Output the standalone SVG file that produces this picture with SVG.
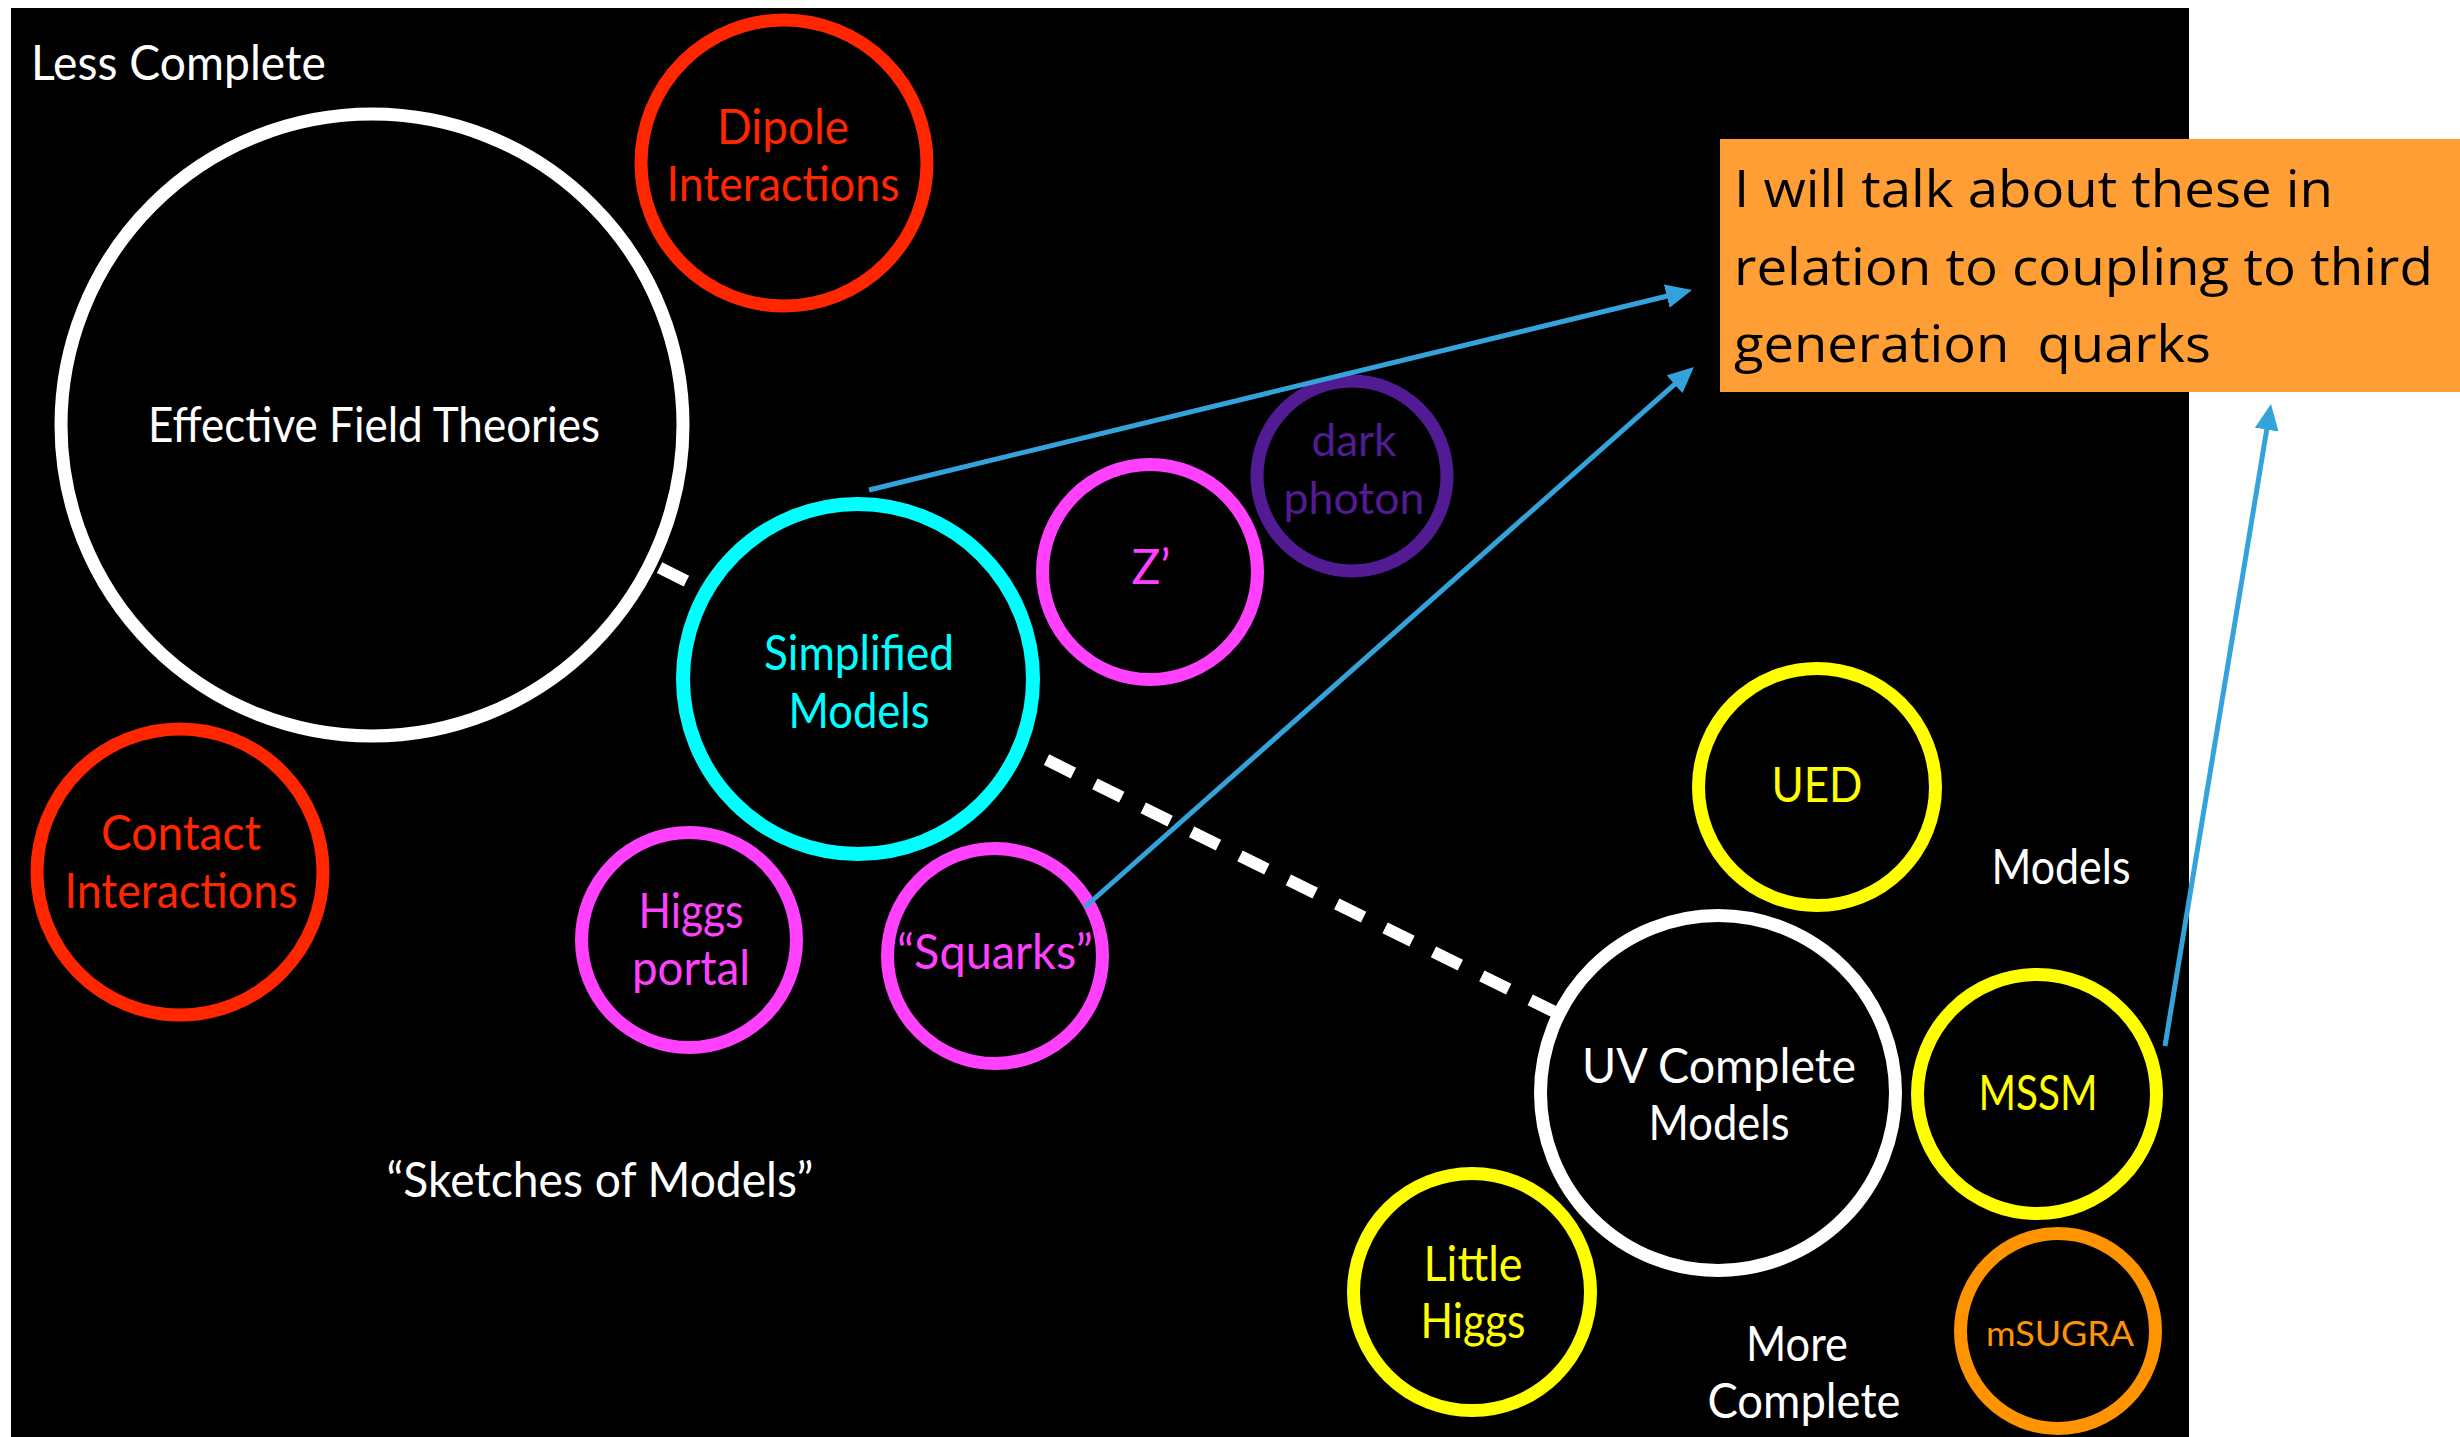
<svg xmlns="http://www.w3.org/2000/svg" width="2460" height="1437" viewBox="0 0 2460 1437">
<style>
.ring{fill:#000;stroke-width:13}
.t{font-family:Lato,"Open Sans","Liberation Sans",sans-serif;font-size:48px;text-anchor:middle}
.w{fill:#fff}.wr{stroke:#fff}
.r{fill:#FF2600}.rr{stroke:#FF2600}
.c{fill:#00FFFF}.cr{stroke:#00FFFF}
.m{fill:#FF40FF}.mr{stroke:#FF40FF}
.p{fill:#531B93}.pr{stroke:#531B93}
.y{fill:#FFFF00}.yr{stroke:#FFFF00}
.o{fill:#FF9300}.or{stroke:#FF9300}
.conn{stroke:#35A3DB;stroke-width:5;fill:none;marker-end:url(#ah)}
.dash{stroke:#fff;stroke-width:12;fill:none;stroke-dasharray:30 24;stroke-dashoffset:3}
.note{font-family:"Open Sans","Liberation Sans",sans-serif;font-size:52px;fill:#000}
</style>
<defs>
<marker id="ah" markerUnits="userSpaceOnUse" viewBox="0 0 26 24" refX="6" refY="12" markerWidth="26" markerHeight="24" orient="auto">
<path d="M0,0 L26,12 L0,24 Z" fill="#35A3DB"/>
</marker>
</defs>
<rect x="0" y="0" width="2460" height="1437" fill="#fff"/>
<rect x="11" y="8" width="2178" height="1429" fill="#000"/>
<g id="connectors-dashed">
<path class="dash" d="M372,425 L1718,1093"/>
</g>
<g id="eft"><circle class="ring wr" cx="372" cy="425" r="311"/><text class="t w" x="374" y="442" textLength="452" lengthAdjust="spacingAndGlyphs">Effective Field Theories</text></g>
<g id="dipole"><circle class="ring rr" cx="784" cy="163" r="143"/><text class="t r" x="783" y="144" textLength="132" lengthAdjust="spacingAndGlyphs">Dipole</text><text class="t r" x="783" y="201" textLength="233" lengthAdjust="spacingAndGlyphs">Interactions</text></g>
<g id="simplified"><circle class="ring cr" cx="858" cy="679" r="175" style="stroke-width:14"/><text class="t c" x="859" y="670" textLength="190" lengthAdjust="spacingAndGlyphs">Simplified</text><text class="t c" x="859" y="728" textLength="141" lengthAdjust="spacingAndGlyphs">Models</text></g>
<g id="contact"><circle class="ring rr" cx="180" cy="872" r="143"/><text class="t r" x="181" y="850" textLength="160" lengthAdjust="spacingAndGlyphs">Contact</text><text class="t r" x="181" y="908" textLength="233" lengthAdjust="spacingAndGlyphs">Interactions</text></g>
<g id="higgs-portal"><circle class="ring mr" cx="689" cy="940" r="107.5"/><text class="t m" x="691" y="928" textLength="105" lengthAdjust="spacingAndGlyphs">Higgs</text><text class="t m" x="691" y="985" textLength="118" lengthAdjust="spacingAndGlyphs">portal</text></g>
<g id="squarks"><circle class="ring mr" cx="995" cy="956" r="107.5"/><text class="t m" x="995" y="969" textLength="196" lengthAdjust="spacingAndGlyphs">“Squarks”</text></g>
<g id="zprime"><circle class="ring mr" cx="1150" cy="572" r="107.5"/><text class="t m" x="1151" y="584">Z’</text></g>
<g id="dark-photon"><circle class="ring pr" cx="1352" cy="476" r="95"/><text class="t p" x="1354" y="456" style="font-size:44px" textLength="85" lengthAdjust="spacingAndGlyphs">dark</text><text class="t p" x="1354" y="514" style="font-size:44px" textLength="141" lengthAdjust="spacingAndGlyphs">photon</text></g>
<g id="ued"><circle class="ring yr" cx="1817" cy="787" r="118.5"/><text class="t y" x="1817" y="802" textLength="91" lengthAdjust="spacingAndGlyphs">UED</text></g>
<g id="uv-complete"><circle class="ring wr" cx="1718" cy="1093" r="177.5"/><text class="t w" x="1719" y="1083" textLength="274" lengthAdjust="spacingAndGlyphs">UV Complete</text><text class="t w" x="1719" y="1140" textLength="141" lengthAdjust="spacingAndGlyphs">Models</text></g>
<g id="mssm"><circle class="ring yr" cx="2037" cy="1094" r="119.5"/><text class="t y" x="2038" y="1110" textLength="119" lengthAdjust="spacingAndGlyphs">MSSM</text></g>
<g id="little-higgs"><circle class="ring yr" cx="1472" cy="1292" r="118.5"/><text class="t y" x="1473" y="1281" textLength="99" lengthAdjust="spacingAndGlyphs">Little</text><text class="t y" x="1473" y="1338" textLength="105" lengthAdjust="spacingAndGlyphs">Higgs</text></g>
<g id="msugra"><circle class="ring or" cx="2058" cy="1331" r="97.5"/><text class="t o" x="2060" y="1346" style="font-size:35px" textLength="148" lengthAdjust="spacingAndGlyphs">mSUGRA</text></g>
<g id="labels">
<text class="t w" x="31" y="80" style="text-anchor:start" textLength="295" lengthAdjust="spacingAndGlyphs">Less Complete</text>
<text class="t w" x="600" y="1197" textLength="427" lengthAdjust="spacingAndGlyphs">“Sketches of Models”</text>
<text class="t w" x="2061" y="884" textLength="139" lengthAdjust="spacingAndGlyphs">Models</text>
<text class="t w" x="1797" y="1361" textLength="102" lengthAdjust="spacingAndGlyphs">More</text>
<text class="t w" x="1804" y="1418" textLength="193" lengthAdjust="spacingAndGlyphs">Complete</text>
</g>
<g id="note">
<rect x="1720" y="139" width="740" height="253" fill="#FF9E35"/>
<text class="note" x="1734" y="207" textLength="599" lengthAdjust="spacingAndGlyphs">I will talk about these in</text>
<text class="note" x="1734" y="285" textLength="699" lengthAdjust="spacingAndGlyphs">relation to coupling to third</text>
<text class="note" x="1734" y="362" textLength="477" lengthAdjust="spacingAndGlyphs" xml:space="preserve">generation  quarks</text>
</g>
<g id="connectors">
<path class="conn" d="M869,490 L1672.6,294.7"/>
<path class="conn" d="M1085,907 L1679,380.3"/>
<path class="conn" d="M2165,1046 L2267.7,423.7"/>
</g>
</svg>
